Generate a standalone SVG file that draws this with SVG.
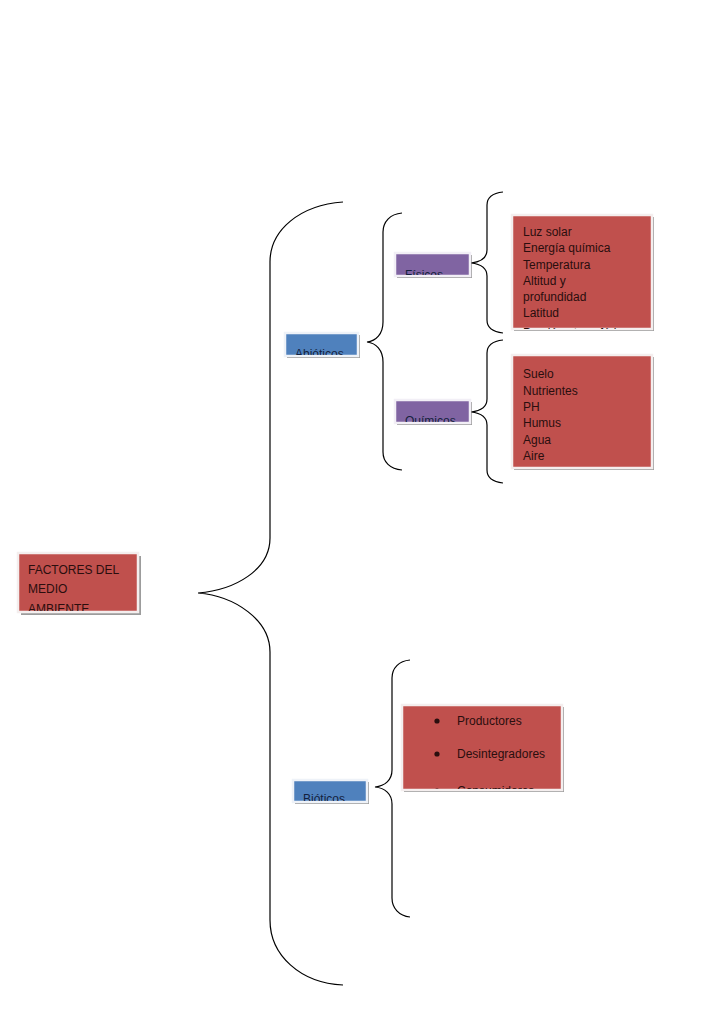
<svg xmlns="http://www.w3.org/2000/svg" width="728" height="1031" viewBox="0 0 728 1031">
<style>
.sh{fill:#3a3a3a;opacity:.5}
.red{fill:#C0504D;stroke:#f4eeee;stroke-width:2.5}
.blue{fill:#4F81BD;stroke:#eef2f8;stroke-width:2.5}
.pur{fill:#8064A2;stroke:#f2eff6;stroke-width:2.5}
text{font-family:"Liberation Sans",Arial,sans-serif;font-size:12px}
.dk{fill:#2a0e0e}
.nv{fill:#14213d}
.br{fill:none;stroke:#000;stroke-width:1.2}
</style>
<defs>
<clipPath id="cF"><rect x="18" y="553" width="120" height="58"/></clipPath>
<clipPath id="cA"><rect x="285" y="333" width="73" height="22"/></clipPath>
<clipPath id="cFi"><rect x="395" y="253" width="75" height="22"/></clipPath>
<clipPath id="cQ"><rect x="395" y="400" width="75" height="22"/></clipPath>
<clipPath id="cB"><rect x="293" y="780" width="74" height="21"/></clipPath>
<clipPath id="cL1"><rect x="512" y="215" width="140" height="114"/></clipPath>
<clipPath id="cL3"><rect x="402" y="705" width="160" height="84"/></clipPath>
</defs>
<rect width="728" height="1031" fill="#fff"/>
<g id="connectors">
<path class="br" d="M343,202 C300,205 270,230 270,262 L270,538 C270,570 235,590 198,593 C235,596 270,620 270,652 L270,920 C270,955 300,983 343,985"/>
<path class="br" d="M402,213 C390,214 383,222 383,232 L383,322 C383,334 376,341 367,342 C376,343 383,350 383,362 L383,452 C383,462 390,469 402,470"/>
<path class="br" d="M503,192 C494,193 487,197 487,205 L487,250 C487,258 480,262 471,263 C480,264 487,268 487,276 L487,320 C487,328 494,332 503,333"/>
<path class="br" d="M503,340 C494,341 487,345 487,353 L487,399 C487,407 480,411 471,412 C480,413 487,417 487,425 L487,470 C487,478 494,482 503,483"/>
<path class="br" d="M410,660 C399,661 392,668 392,678 L392,770 C392,780 385,786 375,787 C385,788 392,794 392,804 L392,898 C392,908 399,916 410,917"/>
</g>
<g id="factores">
<rect class="sh" x="21" y="556" width="120" height="59"/>
<rect class="red" x="18" y="553" width="120" height="59"/>
<g clip-path="url(#cF)" class="dk">
<text x="28" y="574">FACTORES DEL</text>
<text x="28" y="593">MEDIO</text>
<text x="28" y="613">AMBIENTE</text>
</g>
</g>
<g id="abioticos">
<rect class="sh" x="287" y="335" width="73" height="23"/>
<rect class="blue" x="285" y="333" width="73" height="23"/>
<text clip-path="url(#cA)" class="nv" x="295" y="358">Abióticos</text>
</g>
<g id="fisicos">
<rect class="sh" x="397" y="255" width="75" height="23"/>
<rect class="pur" x="395" y="253" width="75" height="23"/>
<text clip-path="url(#cFi)" class="nv" x="405" y="279">Físicos</text>
</g>
<g id="quimicos">
<rect class="sh" x="397" y="402" width="75" height="23"/>
<rect class="pur" x="395" y="400" width="75" height="23"/>
<text clip-path="url(#cQ)" class="nv" x="405" y="425">Químicos</text>
</g>
<g id="bioticos">
<rect class="sh" x="295" y="782" width="74" height="22"/>
<rect class="blue" x="293" y="780" width="74" height="22"/>
<text clip-path="url(#cB)" class="nv" x="303" y="803">Bióticos</text>
</g>
<g id="lista-fisicos">
<rect class="sh" x="514" y="217" width="140" height="114"/>
<rect class="red" x="512" y="215" width="140" height="114"/>
<g clip-path="url(#cL1)" class="dk">
<text x="523" y="236">Luz solar</text>
<text x="523" y="252">Energía química</text>
<text x="523" y="269">Temperatura</text>
<text x="523" y="285">Altitud y</text>
<text x="523" y="301">profundidad</text>
<text x="523" y="317">Latitud</text>
<text x="523" y="337">Presión atmosférica</text>
</g>
</g>
<g id="lista-quimicos">
<rect class="sh" x="514" y="357" width="140" height="113"/>
<rect class="red" x="512" y="355" width="140" height="113"/>
<g class="dk">
<text x="523" y="378">Suelo</text>
<text x="523" y="395">Nutrientes</text>
<text x="523" y="411">PH</text>
<text x="523" y="427">Humus</text>
<text x="523" y="444">Agua</text>
<text x="523" y="460">Aire</text>
</g>
</g>
<g id="lista-bioticos">
<rect class="sh" x="404" y="707" width="160" height="85"/>
<rect class="red" x="402" y="705" width="160" height="85"/>
<g clip-path="url(#cL3)" class="dk">
<circle cx="437" cy="721" r="2.6"/>
<text x="457" y="725">Productores</text>
<circle cx="437" cy="754" r="2.6"/>
<text x="457" y="758">Desintegradores</text>
<circle cx="437" cy="791" r="2.6"/>
<text x="457" y="795">Consumidores</text>
</g>
</g>
</svg>
